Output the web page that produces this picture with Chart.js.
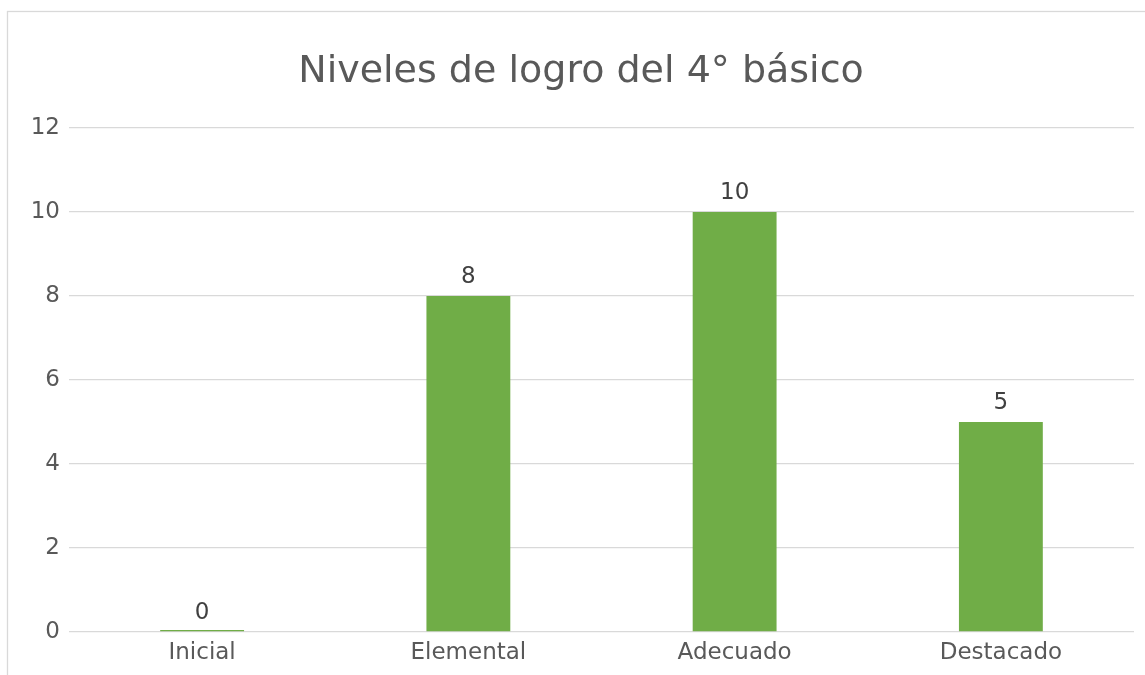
<!DOCTYPE html>
<html>
<head>
<meta charset="utf-8">
<script src="https://cdn.jsdelivr.net/npm/chart.js@4"></script>
<style>
  html, body { margin: 0; padding: 0; background: #fff; }
  #wrap { position: relative; width: 1145px; height: 675px; overflow: hidden; }
</style>
</head>
<body>
<div id="wrap"><canvas id="chart" width="1145" height="675"></canvas></div>
<script>
// data
const categories = ["Inicial", "Elemental", "Adecuado", "Destacado"];
const counts = [0, 8, 10, 5];
const titleText = "Niveles de logro del 4° básico";
const yMax = 12;
const yStep = 2;

const FONT = "'DejaVu Sans', sans-serif";
const TEXT = "#595959";
const GRID = "#D9D9D9";
const GREEN = "#70AD47";

// frame + title + value labels
const decor = {
  id: "decor",
  beforeDraw(chart) {
    const ctx = chart.ctx;
    ctx.save();
    ctx.fillStyle = "#fff";
    ctx.fillRect(0, 0, chart.width, chart.height);
    ctx.strokeStyle = GRID;
    ctx.lineWidth = 1.3;
    ctx.strokeRect(7.5, 11.5, 1160, 700);
    ctx.fillStyle = TEXT;
    ctx.font = "38px " + FONT;
    ctx.textAlign = "center";
    ctx.textBaseline = "alphabetic";
    ctx.fillText(titleText, 581, 82);
    ctx.restore();
  },
  afterDatasetsDraw(chart) {
    const ctx = chart.ctx;
    const meta = chart.getDatasetMeta(0);
    ctx.save();
    ctx.fillStyle = "#404040";
    ctx.font = "23px " + FONT;
    ctx.textAlign = "center";
    ctx.textBaseline = "alphabetic";
    meta.data.forEach((bar, i) => {
      const top = chart.scales.y.getPixelForValue(counts[i]);
      ctx.fillText(String(counts[i]), bar.x, top - 13);
    });
    ctx.restore();
  }
};

new Chart(document.getElementById("chart"), {
  type: "bar",
  data: {
    labels: categories,
    datasets: [{
      data: counts,
      backgroundColor: GREEN,
      borderWidth: 0,
      barPercentage: 0.315,
      categoryPercentage: 1,
      minBarLength: 2
    }]
  },
  options: {
    responsive: false,
    animation: false,
    layout: { padding: { left: 0, top: 128, right: 11, bottom: 0 } },
    plugins: {
      legend: { display: false },
      title: { display: false },
      tooltip: { enabled: false }
    },
    scales: {
      x: {
        grid: { display: false, drawTicks: false },
        border: { display: false },
        ticks: { color: TEXT, font: { family: FONT, size: 23 }, padding: 7 },
        afterFit(axis) { axis.height = 43; }
      },
      y: {
        min: 0,
        max: yMax,
        grid: { color: GRID, lineWidth: 1.3, drawTicks: false },
        border: { display: false },
        ticks: { stepSize: yStep, color: TEXT, font: { family: FONT, size: 23 }, padding: 9 },
        afterFit(axis) { axis.width = 69; }
      }
    }
  },
  plugins: [decor]
});
</script>
</body>
</html>
